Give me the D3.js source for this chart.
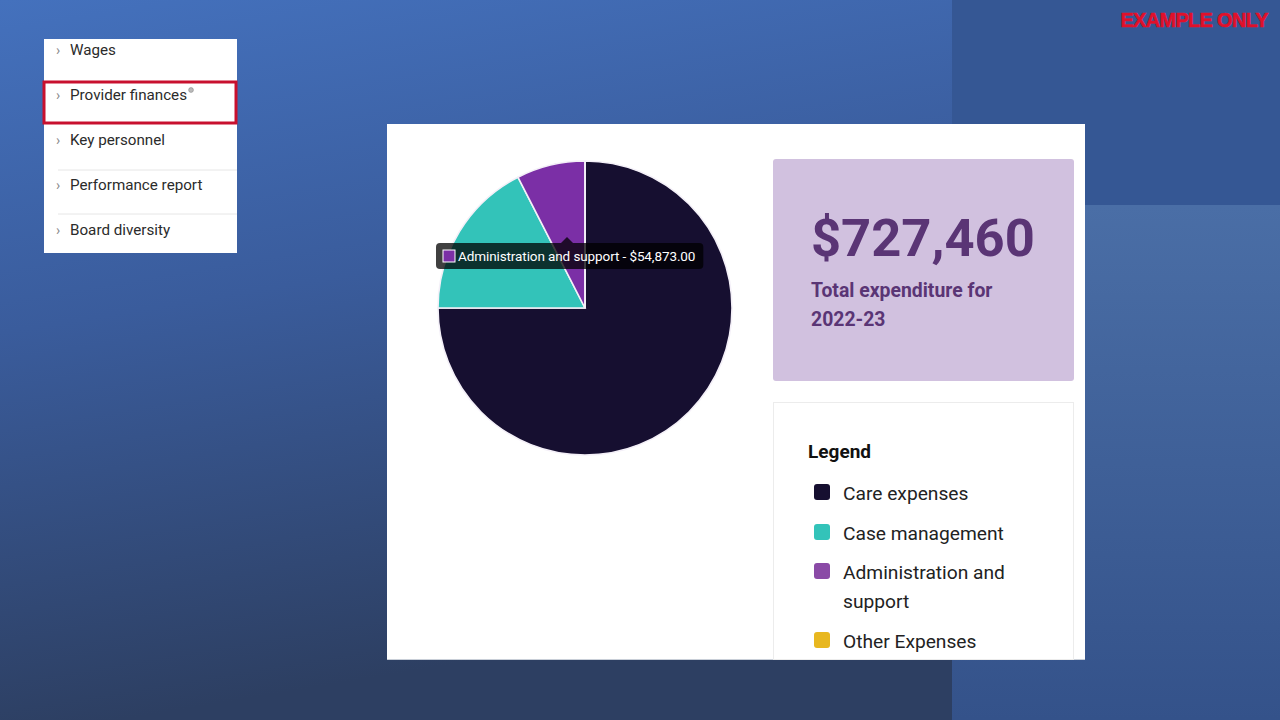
<!DOCTYPE html>
<html>
<head>
<meta charset="utf-8">
<script src="https://cdn.jsdelivr.net/npm/d3@7"></script>
<style>
  html, body { margin: 0; padding: 0; overflow: hidden; background: #2f4166; }
  svg { display: block; font-family: Roboto, "Noto Sans", sans-serif; }
</style>
</head>
<body>
<svg id="chart" width="1280" height="720"></svg>
<script>
// Provider finances — expenditure pie with total and legend.

const CATEGORIES = ['Care expenses', 'Case management', 'Administration and support', 'Other Expenses'];
const VALUES = [545595, 126992, 54873, 0];
const PIE_COLORS = ['#160f30', '#33c3b9', '#7b2fa6', '#e8b71f'];
const LEGEND_COLORS = ['#160f30', '#33c3b9', '#8a4aa6', '#e8b71f'];
const LEGEND_LINES = [['Care expenses'], ['Case management'], ['Administration and', 'support'], ['Other Expenses']];
const NAV_ITEMS = ['Wages', 'Provider finances', 'Key personnel', 'Performance report', 'Board diversity'];
const PERIOD = '2022-23';
const HOVERED = 2;

const INK = '#222222';
const PURPLE_INK = '#5a3575';

const svg = d3.select('#chart');
const defs = svg.append('defs');

// background
const bg = defs.append('linearGradient').attr('id', 'bgL').attr('gradientUnits', 'userSpaceOnUse')
  .attr('x1', 0).attr('y1', 0).attr('x2', 120).attr('y2', 720);
bg.append('stop').attr('offset', '0%').attr('stop-color', '#4471bd');
bg.append('stop').attr('offset', '45%').attr('stop-color', '#3a5c9c');
bg.append('stop').attr('offset', '100%').attr('stop-color', '#2d3f62');
const bgR = defs.append('linearGradient').attr('id', 'bgR').attr('gradientUnits', 'userSpaceOnUse')
  .attr('x1', 0).attr('y1', 205).attr('x2', 0).attr('y2', 720);
bgR.append('stop').attr('offset', '0%').attr('stop-color', '#4a6ea6');
bgR.append('stop').attr('offset', '100%').attr('stop-color', '#34528a');

svg.append('rect').attr('width', 952).attr('height', 720).attr('fill', 'url(#bgL)');
svg.append('rect').attr('x', 952).attr('width', 328).attr('height', 205).attr('fill', '#355794');
svg.append('rect').attr('x', 952).attr('y', 205).attr('width', 328).attr('height', 515).attr('fill', 'url(#bgR)');

svg.append('text').attr('x', 1268).attr('y', 27).attr('text-anchor', 'end')
  .attr('fill', '#e0102a').attr('stroke', '#e0102a').attr('stroke-width', 0.6)
  .style('font-family', '"Liberation Sans", Arial, sans-serif')
  .style('font-size', '20px').style('font-weight', '700').style('letter-spacing', '-0.7px')
  .text('EXAMPLE ONLY');

// side navigation
const nav = svg.append('g');
nav.append('rect').attr('x', 44).attr('y', 39).attr('width', 193).attr('height', 214).attr('fill', '#fff');
[170, 214].forEach(yy => nav.append('line').attr('x1', 58).attr('x2', 237).attr('y1', yy).attr('y2', yy)
  .attr('stroke', '#e6e6e6').attr('stroke-width', 1));
NAV_ITEMS.forEach((t, i) => {
  const y = 50 + i * 45;
  nav.append('text').attr('x', 56).attr('y', y + 5).attr('fill', '#8a8a8a').style('font-size', '14px').text('›');
  const tx = nav.append('text').attr('x', 70).attr('y', y + 5).attr('fill', '#2b2b2b')
    .style('font-size', '15.2px').text(t);
  if (i === 1) {
    const w = tx.node().getComputedTextLength();
    nav.append('circle').attr('cx', 70 + w + 4).attr('cy', y - 5).attr('r', 2.4)
      .attr('fill', '#bbb').attr('stroke', '#888').attr('stroke-width', 0.6);
  }
});
nav.append('rect').attr('x', 44).attr('y', 82).attr('width', 192).attr('height', 41)
  .attr('fill', 'none').attr('stroke', '#c8102e').attr('stroke-width', 3);

// main card (cut off at the bottom of the screen capture)
svg.append('rect').attr('x', 387).attr('y', 124).attr('width', 698).attr('height', 535).attr('fill', '#fff');
svg.append('line').attr('x1', 387).attr('x2', 1085).attr('y1', 659.5).attr('y2', 659.5).attr('stroke', '#c9cfd8');

// pie
const cx = 585, cy = 308, R = 147;
const pie = d3.pie().sort(null).value(d => d)(VALUES);
const arc = d3.arc().innerRadius(0).outerRadius(R);
const pg = svg.append('g').attr('transform', `translate(${cx},${cy})`);
pg.selectAll('path').data(pie).join('path')
  .attr('d', arc)
  .attr('fill', (d, i) => PIE_COLORS[i])
  .attr('stroke', '#f4f0f8').attr('stroke-width', 1.6);

// tooltip for hovered slice
const tip = svg.append('g').attr('transform', 'translate(436,243)');
const tipText = `${CATEGORIES[HOVERED]} - ${d3.format('$,.2f')(VALUES[HOVERED])}`;
tip.append('path').attr('d', 'M125,0 L131,-6 L137,0 Z').attr('fill', 'rgba(0,0,0,0.75)');
const tipBox = tip.append('rect').attr('width', 262).attr('height', 26).attr('rx', 4)
  .attr('fill', 'rgba(0,0,0,0.75)');
tip.append('rect').attr('x', 7).attr('y', 7).attr('width', 12).attr('height', 12)
  .attr('fill', PIE_COLORS[HOVERED]).attr('stroke', '#fff').attr('stroke-width', 1);
const tt = tip.append('text').attr('x', 22).attr('y', 17.5).attr('fill', '#fff')
  .style('font-size', '13.5px').style('letter-spacing', '-0.1px').text(tipText);
tipBox.attr('width', Math.max(262, tt.node().getComputedTextLength() + 30));

// total box
const total = d3.sum(VALUES);
svg.append('rect').attr('x', 773).attr('y', 159).attr('width', 301).attr('height', 222).attr('rx', 3)
  .attr('fill', '#d1c1df');
svg.append('text').attr('x', 811).attr('y', 256).attr('fill', PURPLE_INK)
  .style('font-size', '52.5px').style('font-weight', '700')
  .text(d3.format('$,.0f')(total));
svg.append('text').attr('x', 811).attr('y', 297).attr('fill', PURPLE_INK)
  .style('font-size', '19.4px').style('font-weight', '700').text('Total expenditure for');
svg.append('text').attr('x', 811).attr('y', 326).attr('fill', PURPLE_INK)
  .style('font-size', '19.4px').style('font-weight', '700').text(PERIOD);

// legend
svg.append('rect').attr('x', 773.5).attr('y', 402.5).attr('width', 300).attr('height', 257)
  .attr('fill', '#fff').attr('stroke', '#ececec');
svg.append('text').attr('x', 808).attr('y', 458).attr('fill', '#111')
  .style('font-size', '19px').style('font-weight', '700').text('Legend');
const rowY = [493, 533, 572, 641];
CATEGORIES.forEach((c, i) => {
  svg.append('rect').attr('x', 814).attr('y', rowY[i] - 9).attr('width', 16).attr('height', 16).attr('rx', 3)
    .attr('fill', LEGEND_COLORS[i]);
  LEGEND_LINES[i].forEach((ln, j) => {
    svg.append('text').attr('x', 843).attr('y', rowY[i] + 7 + j * 29).attr('fill', INK)
      .style('font-size', '19.2px').text(ln);
  });
});
</script>
</body>
</html>
